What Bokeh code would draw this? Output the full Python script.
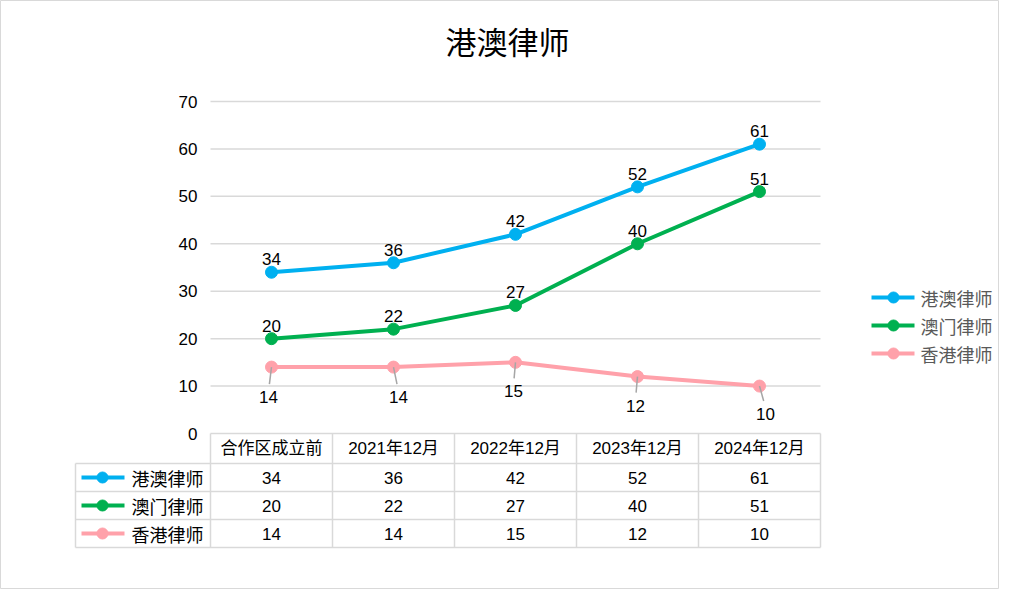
from bokeh.plotting import figure
from bokeh.models import Range1d
from bokeh.core.properties import value
from bokeh.embed import file_html
from bokeh.resources import INLINE

# ---------------- data ----------------
title_text = "港澳律师"
categories = ["合作区成立前", "2021年12月", "2022年12月", "2023年12月", "2024年12月"]
series_names = ["港澳律师", "澳门律师", "香港律师"]
gangao = [34, 36, 42, 52, 61]
aomen = [20, 22, 27, 40, 51]
xianggang = [14, 14, 15, 12, 10]
y_ticks = [0, 10, 20, 30, 40, 50, 60, 70]

series_values = [gangao, aomen, xianggang]
colors = ["#00b0f0", "#00b050", "#ffa1aa"]

# ---------------- layout (pixels) ----------------
FIG_W, FIG_H = 999, 589
OFF = 0
X0, DX = 271 - OFF, 122      # pixel x of category 0, pixel step
Y0 = 433 - OFF               # pixel y of value 0
KY = 332 / 70                # pixels per unit


def dx(px_ref):
    return (px_ref - OFF - X0) / DX


def dy(py_ref):
    return (Y0 - (py_ref - OFF)) / KY


FONT = "Liberation Sans, Noto Sans CJK SC, sans-serif"
CJK = "Noto Sans CJK SC, Liberation Sans, sans-serif"
GRID = "#d9d9d9"

p = figure(width=FIG_W, height=FIG_H, output_backend="svg", toolbar_location=None,
           min_border=0, x_axis_type=None, y_axis_type=None,
           x_range=Range1d(-X0 / DX, (FIG_W - X0) / DX),
           y_range=Range1d((Y0 - FIG_H) / KY, Y0 / KY))
p.grid.visible = False
p.outline_line_color = GRID
p.outline_line_width = 1
p.background_fill_color = "white"
p.border_fill_color = "white"

n = len(categories)
left_edge, right_edge = -0.5, n - 0.5

# gridlines
p.segment(x0=[left_edge] * len(y_ticks), x1=[right_edge] * len(y_ticks),
          y0=y_ticks, y1=y_ticks, line_color=GRID, line_width=1.5)

# y tick labels
p.text(x=[dx(197)] * len(y_ticks), y=y_ticks, text=[str(t) for t in y_ticks],
       text_align="right", text_baseline="middle", text_font_size="17px",
       text_font=value(FONT), text_color="black")

# title
p.text(x=[dx(507)], y=[dy(40)], text=[title_text], text_align="center",
       text_baseline="middle", text_font_size="31px", text_font=value(CJK),
       text_color="black")

# lines + markers
xs = list(range(n))
for vals, c in zip(series_values, colors):
    p.line(xs, vals, line_color=c, line_width=4)
    p.scatter(xs, vals, size=12, fill_color=c, line_color=c)

# data labels above (blue, green)
for vals in series_values[:2]:
    p.text(xs, vals, text=[str(v) for v in vals], text_align="center",
           text_baseline="bottom", y_offset=-7, text_font_size="17px",
           text_font=value(FONT), text_color="black")

# pink labels below with leader lines
lab_dx = [-3, 5, -2, -2, 6]
lab_dy = [30, 30, 29, 29, 28]
for i, v in enumerate(xianggang):
    p.segment(x0=[xs[i]], y0=[v], x1=[xs[i] + lab_dx[i] / DX * 0.7],
              y1=[v - (lab_dy[i] - 13) / KY], line_color="#a6a6a6", line_width=1.5)
    p.text([xs[i] + lab_dx[i] / DX], [v - lab_dy[i] / KY], text=[str(v)],
           text_align="center", text_baseline="middle", text_font_size="17px",
           text_font=value(FONT), text_color="black")

# ---------------- data table ----------------
row_lines = [433, 463, 491, 519, 547]
row_centers = [448, 477, 505, 533]
tbl_left = dx(75)

# vertical lines between category columns
col_x = [k - 0.5 for k in range(n + 1)]
p.segment(x0=col_x, x1=col_x, y0=[dy(row_lines[0])] * len(col_x),
          y1=[dy(row_lines[-1])] * len(col_x), line_color=GRID, line_width=1.5)
# left legend column
p.segment(x0=[tbl_left], x1=[tbl_left], y0=[dy(row_lines[1])], y1=[dy(row_lines[-1])],
          line_color=GRID, line_width=1.5)
# horizontal lines
p.segment(x0=[tbl_left] * 4, x1=[right_edge] * 4,
          y0=[dy(r) for r in row_lines[1:]], y1=[dy(r) for r in row_lines[1:]],
          line_color=GRID, line_width=1.5)

# header
p.text(xs, [dy(row_centers[0])] * n, text=categories, text_align="center",
       text_baseline="middle", text_font_size="17px", text_font=value(FONT),
       text_color="black")

for r, (name, vals, c) in enumerate(zip(series_names, series_values, colors)):
    yc = dy(row_centers[r + 1])
    p.text(xs, [yc] * n, text=[str(v) for v in vals], text_align="center",
           text_baseline="middle", text_font_size="17px", text_font=value(FONT),
           text_color="black")
    p.line([dx(81), dx(124)], [yc, yc], line_color=c, line_width=4)
    p.scatter([dx(102)], [yc], size=11, fill_color=c, line_color=c)
    p.text([dx(131)], [yc], text=[name], text_align="left", text_baseline="middle",
           text_font_size="18px", text_font=value(CJK), text_color="black")

# ---------------- right legend ----------------
leg_y = [297, 325, 353]
for name, c, ly in zip(series_names, colors, leg_y):
    yc = dy(ly)
    p.line([dx(871), dx(914)], [yc, yc], line_color=c, line_width=4)
    p.scatter([dx(893)], [yc], size=11, fill_color=c, line_color=c)
    p.text([dx(920)], [yc], text=[name], text_align="left", text_baseline="middle",
           text_font_size="18px", text_font=value(CJK), text_color="#595959")

open("out.html", "w").write(file_html(p, INLINE))
